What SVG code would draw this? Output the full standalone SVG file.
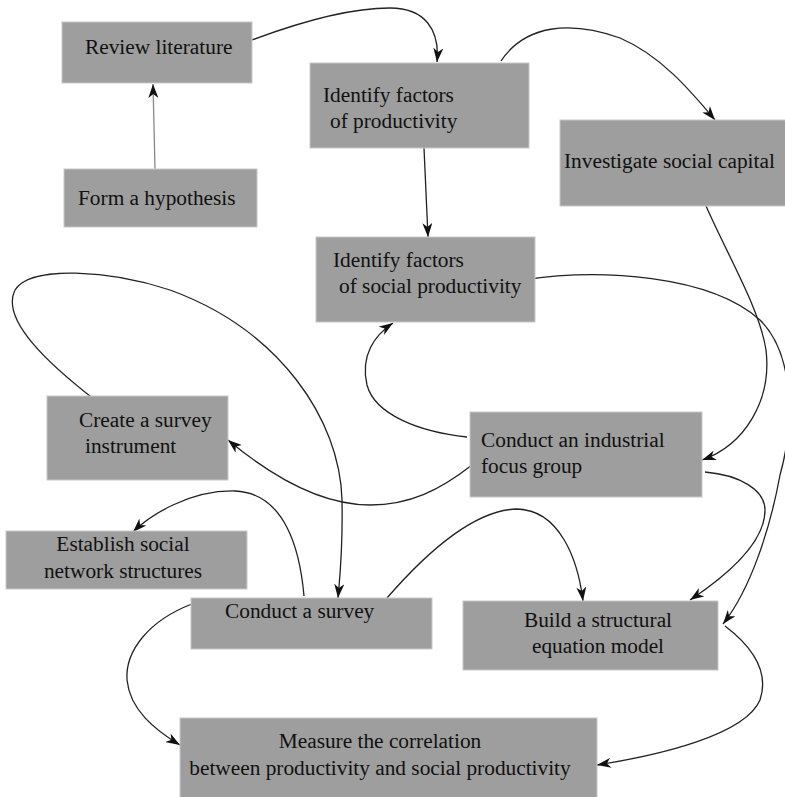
<svg xmlns="http://www.w3.org/2000/svg" width="785" height="797" viewBox="0 0 785 797">
<style>
.box{fill:#9e9e9e;stroke:#c8c8c8;stroke-width:1}
.t{font-family:"Liberation Serif","Times New Roman",serif;font-size:21.33px;fill:#111}
.c{text-anchor:middle}
.e{fill:none;stroke:#222;stroke-width:1.3;marker-end:url(#ah)}
.g{stroke:#888}
</style>
<defs>
<marker id="ah" viewBox="0 0 14 10" refX="14" refY="5" markerWidth="14" markerHeight="10" markerUnits="userSpaceOnUse" orient="auto">
<path d="M0,0 L14,5 L0,10 L4,5 z" fill="#111"/>
</marker>
</defs>
<rect width="785" height="797" fill="#fff"/>
<g id="connectors">
<path class="e g" d="M155,169 L153,84"/>
<path class="e" d="M252,40 C300,22 350,8 390,8 C425,8 440,30 437,62"/>
<path class="e" d="M501,61 C525,25 570,20 620,38 C660,55 690,90 715,120"/>
<path class="e" d="M424,148 L428,237"/>
<path class="e" d="M706,206 C730,260 760,310 766,350 C772,400 745,445 702,460"/>
<path class="e" d="M523,280 C600,268 710,275 760,320 C800,360 790,440 780,475 C770,530 750,590 723,624"/>
<path class="e" d="M467,437 C420,432 375,415 367,385 C360,355 375,335 393,323"/>
<path class="e" d="M472,465 C440,490 410,505 370,505 C320,505 270,475 228,440"/>
<path class="e" d="M95,400 C50,365 0,320 15,290 C30,265 110,270 170,290 C280,330 340,420 342,500 C343,550 340,575 338,598"/>
<path class="e" d="M304,596 C300,550 285,493 235,491 C190,490 150,515 133,532"/>
<path class="e" d="M387,598 C420,560 470,510 517,509 C560,510 578,560 583,601"/>
<path class="e" d="M705,472 C740,475 765,490 765,510 C765,545 720,580 690,600"/>
<path class="e" d="M192,604 C150,620 125,650 127,680 C130,710 155,730 180,745"/>
<path class="e" d="M725,626 C750,645 770,670 760,700 C745,735 660,755 597,765"/>
</g>
<g id="review"><rect class="box" x="62" y="22" width="190" height="61"/><text class="t" x="85" y="54">Review literature</text></g>
<g id="hypothesis"><rect class="box" x="64" y="169" width="193" height="58"/><text class="t" x="78" y="205">Form a hypothesis</text></g>
<g id="factors"><rect class="box" x="310" y="63" width="219" height="85"/><text class="t" x="323" y="102">Identify factors</text><text class="t" x="330" y="128">of productivity</text></g>
<g id="capital"><rect class="box" x="560" y="120" width="226" height="86"/><text class="t" x="564" y="168">Investigate social capital</text></g>
<g id="socfactors"><rect class="box" x="316" y="237" width="219" height="85"/><text class="t" x="333" y="267">Identify factors</text><text class="t" x="339" y="293">of social productivity</text></g>
<g id="instrument"><rect class="box" x="47" y="396" width="181" height="84"/><text class="t" x="79" y="427">Create a survey</text><text class="t" x="85" y="453">instrument</text></g>
<g id="focus"><rect class="box" x="470" y="412" width="232" height="85"/><text class="t" x="481" y="447">Conduct an industrial</text><text class="t" x="481" y="473">focus group</text></g>
<g id="network"><rect class="box" x="6" y="531" width="241" height="58"/><text class="t c" x="123" y="551">Establish social</text><text class="t c" x="123" y="578">network structures</text></g>
<g id="survey"><rect class="box" x="191" y="598" width="241" height="51"/><text class="t" x="225" y="618">Conduct a survey</text></g>
<g id="sem"><rect class="box" x="463" y="601" width="255" height="69"/><text class="t c" x="598" y="627">Build a structural</text><text class="t c" x="598" y="653">equation model</text></g>
<g id="measure"><rect class="box" x="180" y="718" width="417" height="82"/><text class="t c" x="380" y="748">Measure the correlation</text><text class="t c" x="380" y="775">between productivity and social productivity</text></g>
</svg>
